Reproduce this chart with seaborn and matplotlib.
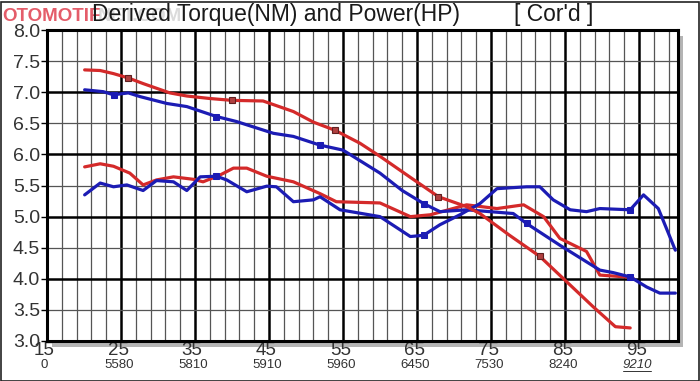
import numpy as np
import pandas as pd
import seaborn as sns
import matplotlib.pyplot as plt
from matplotlib.patches import Rectangle
import matplotlib.transforms as mtransforms

# speed (KPH) vs derived torque / power, two runs (red and blue)
red_torque_x = [20.1, 22.2, 24.0, 26.0, 28.0, 31.6, 33.9, 37.0, 40.0, 44.2, 48.3, 51.0, 53.9,
                57.3, 60.0, 64.0, 67.9, 71.7, 73.5, 77.5, 81.6, 84.8, 88.8, 91.8, 93.8]
red_torque_y = [7.36, 7.35, 7.30, 7.23, 7.14, 6.99, 6.94, 6.90, 6.87, 6.86, 6.69, 6.52, 6.39,
                6.18, 5.97, 5.64, 5.32, 5.16, 5.05, 4.70, 4.36, 4.00, 3.55, 3.23, 3.21]

blue_torque_x = [20.1, 22.6, 24.0, 26.0, 27.6, 31.2, 33.9, 37.9, 40.6, 45.6, 48.3, 51.9, 55.0,
                 60.0, 63.0, 65.9, 68.1, 71.7, 78.0, 79.8, 84.3, 89.7, 91.5, 93.8, 96.0, 97.8, 99.9]
blue_torque_y = [7.04, 7.01, 6.96, 6.99, 6.93, 6.82, 6.77, 6.61, 6.53, 6.34, 6.29, 6.15, 6.07,
                 5.70, 5.42, 5.21, 5.08, 5.11, 5.05, 4.89, 4.54, 4.14, 4.10, 4.03, 3.87, 3.77, 3.77]

red_power_x = [20.1, 22.2, 24.0, 26.2, 28.0, 29.8, 32.1, 34.8, 36.1, 38.4, 40.2, 42.0, 44.7, 48.3,
               51.9, 54.1, 60.0, 64.1, 66.8, 71.7, 75.8, 79.4, 82.1, 84.3, 87.9, 89.7, 93.3, 94.2]
red_power_y = [5.80, 5.85, 5.81, 5.70, 5.51, 5.59, 5.64, 5.60, 5.56, 5.67, 5.78, 5.78, 5.65, 5.56,
               5.37, 5.24, 5.22, 5.00, 5.03, 5.19, 5.13, 5.19, 5.00, 4.65, 4.44, 4.06, 4.03, 4.01]

blue_power_x = [20.1, 22.2, 24.0, 25.8, 28.0, 29.8, 32.1, 33.9, 35.7, 37.9, 39.3, 42.0, 44.7, 46.0,
                48.3, 51.0, 51.9, 54.6, 60.0, 64.1, 65.9, 68.1, 70.8, 73.5, 75.8, 79.8, 81.6, 83.4,
                85.7, 87.9, 89.7, 93.8, 95.6, 97.6, 99.9]
blue_power_y = [5.35, 5.54, 5.48, 5.51, 5.42, 5.58, 5.56, 5.42, 5.64, 5.65, 5.59, 5.40, 5.49, 5.48,
                5.24, 5.27, 5.32, 5.11, 5.00, 4.68, 4.70, 4.87, 5.03, 5.21, 5.45, 5.48, 5.48, 5.27,
                5.11, 5.08, 5.13, 5.11, 5.35, 5.13, 4.46]

speed_ticks = [15, 25, 35, 45, 55, 65, 75, 85, 95]
rpm_labels = ["0", "5580", "5810", "5910", "5960", "6450", "7530", "8240", "9210"]

RED = "#d42a2a"
BLUE = "#1c1cb4"

sns.set_style("white")
plt.rcParams['font.family'] = ['Liberation Sans', 'DejaVu Sans']

fig = plt.figure(figsize=(7, 3.81), dpi=100)
ax = fig.add_axes([0.067, 0.105, 0.902, 0.816])

# grey drop shadow behind the plot box
fig.patches.append(Rectangle((0.074, 0.090), 0.902, 0.816, transform=fig.transFigure,
                             facecolor="#b4b4b4", edgecolor="none", zorder=-1))
# outer frame of the screenshot
fig.patches.append(Rectangle((0.002, 0.0), 0.996, 0.996, transform=fig.transFigure,
                             facecolor="none", edgecolor="#222222", lw=1.2, zorder=-1))

ax.set_xlim(15, 100.3)
ax.set_ylim(3.0, 8.0)

# grid: thin every 2 KPH / 0.5, heavy every 10 KPH / 1.0
for xv in np.arange(17, 100, 2):
    heavy = (xv - 15) % 10 == 0
    ax.axvline(xv, color="black" if heavy else "#555555", lw=1.8 if heavy else 0.9, zorder=1)
for yv in np.arange(3.5, 8.0, 0.5):
    heavy = yv % 1 == 0
    ax.axhline(yv, color="black" if heavy else "#555555", lw=1.8 if heavy else 0.9, zorder=1)

sns.lineplot(x=red_power_x, y=red_power_y, color=RED, lw=2.3, ax=ax, zorder=3)
sns.lineplot(x=blue_power_x, y=blue_power_y, color=BLUE, lw=2.3, ax=ax, zorder=3,
             marker="s", markersize=4, markevery=[9, 20, 31], markeredgecolor=BLUE)
sns.lineplot(x=blue_torque_x, y=blue_torque_y, color=BLUE, lw=2.3, ax=ax, zorder=3,
             marker="s", markersize=4.5, markevery=[2, 7, 11, 15, 19, 23], markeredgecolor=BLUE)
sns.lineplot(x=red_torque_x, y=red_torque_y, color=RED, lw=2.3, ax=ax, zorder=4,
             marker="s", markersize=5, markevery=[3, 8, 12, 16, 20],
             markerfacecolor="#b04040", markeredgecolor="#602020", markeredgewidth=0.8)

for side in ["left", "right", "top", "bottom"]:
    ax.spines[side].set_visible(True)
    ax.spines[side].set_color("black")
    ax.spines[side].set_linewidth(2.2)

ax.set_yticks(np.arange(3.0, 8.01, 0.5))
ax.set_yticklabels([f"{v:.1f}" for v in np.arange(3.0, 8.01, 0.5)])
ax.set_xticks(speed_ticks)
ax.set_xticklabels([str(v) for v in speed_ticks])
ax.tick_params(axis="y", left=True, length=4, width=1, color="black", pad=1,
               labelsize=14, labelcolor="#333333")
ax.tick_params(axis="x", bottom=False, length=0, pad=0.5, labelsize=13.5, labelcolor="#333333")
for lab in ax.get_xticklabels():
    lab.set_transform(lab.get_transform() + mtransforms.ScaledTranslation(-2 / 72, 0, fig.dpi_scale_trans))
ax.set_xlabel("")
ax.set_ylabel("")

# engine speed row under the speed labels
trans = mtransforms.blended_transform_factory(ax.transData, ax.transAxes)
for xv, lab in zip(speed_ticks, rpm_labels):
    ax.text(xv - 0.3, -0.058, lab, transform=trans, ha="center", va="top",
            fontsize=9.5, color="#333333", fontstyle="italic" if lab == "9210" else "normal")
    if lab == "9210":
        ax.plot([xv - 2.2, xv + 1.6], [-0.096, -0.096], transform=trans, color="#333333",
                lw=0.7, clip_on=False)

fig.text(0.131, 0.962, "Derived Torque(NM) and Power(HP)", fontsize=16.5, color="#1a1a1a",
         ha="left", va="center")
fig.text(0.735, 0.962, "[ Cor'd ]", fontsize=16.5, color="#1a1a1a", ha="left", va="center")
# watermark
fig.text(0.003, 0.958, "OTOMOTIF", fontsize=13.5, color="#e04050", fontweight="bold",
         ha="left", va="center", alpha=0.85, zorder=-1)
fig.text(0.140, 0.958, "NET.COM", fontsize=13.5, color="#999999", fontweight="bold",
         ha="left", va="center", alpha=0.35, zorder=-1)

fig.savefig("out.png", dpi=100)
